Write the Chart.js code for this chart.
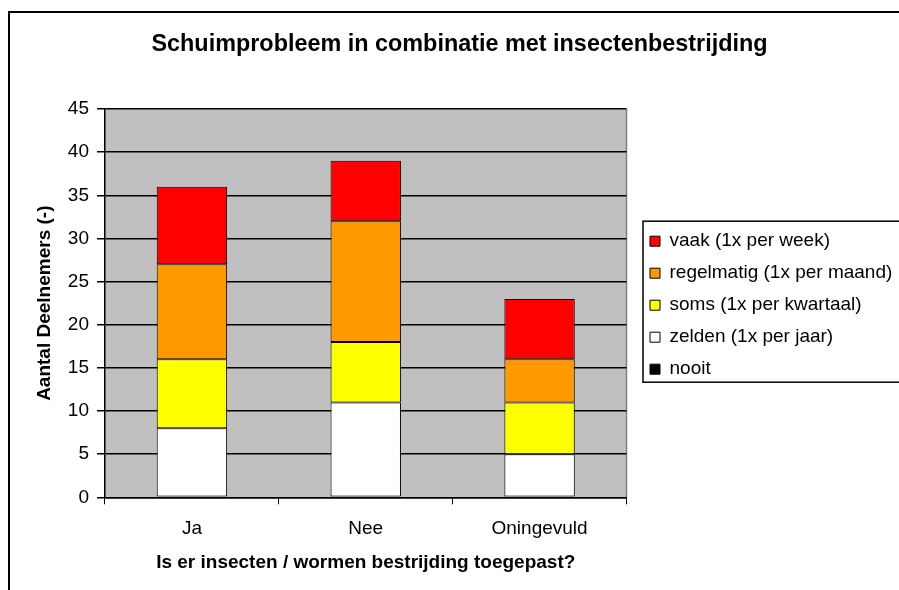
<!DOCTYPE html>
<html>
<head>
<meta charset="utf-8">
<script src="https://cdn.jsdelivr.net/npm/chart.js@4.4.0/dist/chart.umd.min.js"></script>
<style>
  body { margin: 0; background: #fff; }
  canvas { display: block; }
</style>
</head>
<body>
<canvas id="grafiek" width="899" height="590"></canvas>
<script>
// data
const categorieen = ['Ja', 'Nee', 'Oningevuld'];
const nooit = [0, 0, 0];
const zelden = [8, 11, 5];
const soms = [8, 7, 6];
const regelmatig = [11, 14, 5];
const vaak = [9, 7, 7];
const yTicks = [0, 5, 10, 15, 20, 25, 30, 35, 40, 45];

Chart.defaults.font.family = "'Liberation Sans', Arial, sans-serif";
Chart.defaults.font.size = 19;
Chart.defaults.color = '#000';

// grijze achtergrond van het plotvlak + randen
const achtergrond = {
    id: 'achtergrond',
    beforeDraw(chart) {
        const {ctx, chartArea: a} = chart;
        ctx.save();
        ctx.fillStyle = '#C0C0C0';
        ctx.fillRect(a.left, a.top, a.right - a.left, a.bottom - a.top);
        ctx.strokeStyle = '#808080';
        ctx.lineWidth = 1.5;
        ctx.beginPath();
        ctx.moveTo(a.right, a.top);
        ctx.lineTo(a.right, a.bottom);
        ctx.stroke();
        ctx.restore();
    },
    afterDraw(chart) {
        const ctx = chart.ctx;
        ctx.save();
        ctx.strokeStyle = '#000';
        ctx.lineWidth = 2;
        ctx.beginPath();
        ctx.moveTo(9, 592);
        ctx.lineTo(9, 12);
        ctx.lineTo(905, 12);
        ctx.stroke();
        // kader rond de legenda
        const hb = chart.legend.legendHitBoxes;
        if (hb && hb.length) {
            const top = hb[0].top - 10.5;
            const bottom = hb[hb.length - 1].top + 22.5;
            ctx.lineWidth = 1.5;
            ctx.strokeRect(hb[0].left - 7, top, 300, bottom - top);
        }
        ctx.restore();
    }
};

// vaste breedte voor de legenda, zodat het plotvlak bij x=626 eindigt
const legendaBreedte = {
    id: 'legendaBreedte',
    beforeLayout(chart) {
        const lg = chart.legend;
        if (lg && !lg._vast) {
            const fit = lg.fit;
            lg.fit = function () {
                fit.call(this);
                this.width = 272.5;
            };
            lg._vast = true;
        }
    },
    afterLayout(chart) {
        chart.legend.left += 10.5;
        chart.legend.top += 2;
        chart.legend.bottom += 2;
    }
};

const ctx = document.getElementById('grafiek').getContext('2d');
const grafiek = new Chart(ctx, {
    type: 'bar',
    data: {
        labels: categorieen,
        datasets: [
            { label: 'nooit', data: nooit, backgroundColor: '#000000' },
            { label: 'zelden (1x per jaar)', data: zelden, backgroundColor: '#FFFFFF' },
            { label: 'soms (1x per kwartaal)', data: soms, backgroundColor: '#FFFF00' },
            { label: 'regelmatig (1x per maand)', data: regelmatig, backgroundColor: '#FF9900' },
            { label: 'vaak (1x per week)', data: vaak, backgroundColor: '#FF0000' }
        ]
    },
    options: {
        responsive: false,
        animation: false,
        layout: { padding: { left: 20, top: 0, right: 0, bottom: 0 } },
        datasets: {
            bar: {
                borderColor: '#000',
                borderWidth: 1,
                borderSkipped: false,
                barPercentage: 0.405,
                categoryPercentage: 1
            }
        },
        plugins: {
            title: {
                display: true,
                text: 'Schuimprobleem in combinatie met insectenbestrijding',
                font: { size: 23.4, weight: 'bold' },
                padding: { top: 31, bottom: 50 }
            },
            legend: {
                position: 'right',
                fullSize: false,
                reverse: true,
                labels: {
                    boxWidth: 10,
                    boxHeight: 10,
                    padding: 13,
                    font: { size: 19 }
                }
            },
            tooltip: { enabled: false }
        },
        scales: {
            x: {
                stacked: true,
                grid: {
                    offset: true,
                    drawOnChartArea: false,
                    drawTicks: true,
                    tickLength: 7,
                    color: '#000'
                },
                border: { color: '#000', width: 1.5 },
                ticks: { padding: 13 },
                title: {
                    display: true,
                    text: 'Is er insecten / wormen bestrijding toegepast?',
                    font: { size: 19, weight: 'bold' },
                    padding: { top: 0, bottom: 15.6 }
                },
                afterFit(scale) { scale.height = 92.7; }
            },
            y: {
                stacked: true,
                min: 0,
                max: 45,
                grid: {
                    color: '#000',
                    lineWidth: 1.5,
                    tickLength: 8
                },
                border: { color: '#000', width: 1.5 },
                ticks: { stepSize: 5, padding: 8 },
                afterBuildTicks(scale) {
                    scale.ticks = yTicks.map(v => ({ value: v }));
                },
                title: {
                    display: true,
                    text: 'Aantal Deelnemers (-)',
                    font: { size: 19, weight: 'bold' },
                    padding: { top: 13.6, bottom: 0 }
                },
                afterFit(scale) { scale.width = 85; }
            }
        }
    },
    plugins: [achtergrond, legendaBreedte]
});
</script>
</body>
</html>
